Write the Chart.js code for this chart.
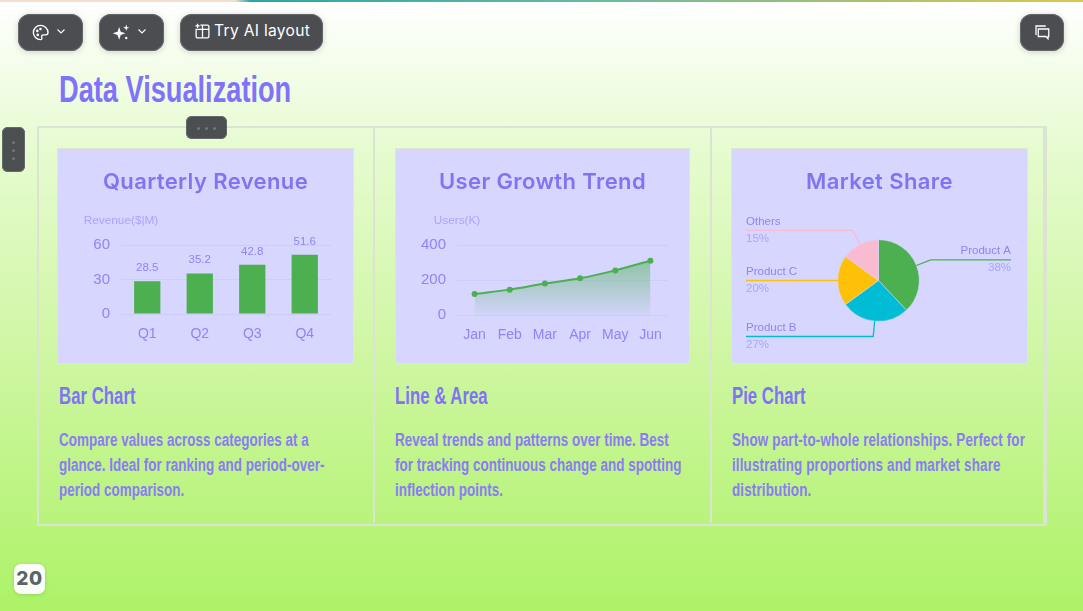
<!DOCTYPE html>
<html>
<head>
<meta charset="utf-8">
<script src="https://cdn.jsdelivr.net/npm/chart.js@4/dist/chart.umd.min.js"></script>
<style>
html, body { margin: 0; padding: 0; }
body { width: 1083px; height: 611px; overflow: hidden; position: relative;
  background: linear-gradient(180deg, #ffffff 0%, #e6fbcf 25%, #cdf6a0 60%, #adf267 100%); font-family: "Liberation Sans", sans-serif; }
.strip { position: absolute; left: 0; top: 0; width: 1083px; height: 2px;
  background: linear-gradient(90deg, #f3dfcf 0, #f3dfcf 235px, #2ba6a6 250px, #6ab9a0 600px, #dcc84a 1083px); }
.btn { position: absolute; top: 14px; height: 37px; background: #4b4d50; border-radius: 12px; color: #fff;
  box-shadow: 0 1px 6px rgba(0,0,0,.18), inset 0 0 0 1px #66686b; font: 15.6px Inter, sans-serif; letter-spacing: .3px; }
.btn svg { position: absolute; top: 9px; }
.handle { position: absolute; background: #4c4f50; border-radius: 6px; box-shadow: inset 0 0 0 1px #66686b; }
.handle i { position: absolute; width: 3px; height: 3px; border-radius: 50%; background: #73777e; }
h1, h4, p { transform-origin: left top; white-space: nowrap; }
h1 { position: absolute; left: 59px; top: 65px; margin: 0; font: bold 37px/50px "Liberation Sans", sans-serif; color: #8073fa; transform: scaleX(.735); }
.grid { position: absolute; left: 37px; top: 126px; width: 1006px; height: 396px; border: 2px solid #dbe4d3; }
.vline { position: absolute; top: 127px; width: 2px; height: 396px; background: #dbe4d3; }
.panel { position: absolute; top: 148px; height: 216px; background: #d6d6ff; box-shadow: inset 0 0 0 1px #dfe6d8; }
.panel canvas { position: absolute; left: 0; top: 0; }
.panel h3 { position: absolute; left: 0; right: 0; top: 17px; margin: 0; text-align: center; font: 600 22px/32px Inter, sans-serif; color: #7f75f2; letter-spacing: .4px; }
h4 { position: absolute; top: 382px; margin: 0; font: bold 23px/28px "Liberation Sans", sans-serif; color: #8073f6; transform: scaleX(.73); }
p { position: absolute; top: 428px; margin: 0; font: bold 18px/25px "Liberation Sans", sans-serif; color: #8a7cf4; transform: scaleX(.75); }
.page { position: absolute; left: 14px; top: 564px; width: 31px; height: 30px; border-radius: 7px; background: #fbfdf8; color: #596468;
  font: 800 19px/30px Inter, sans-serif; letter-spacing: .6px; text-align: center; box-shadow: 0 1px 4px rgba(0,0,0,.12); }
</style>
</head>
<body>
<div class="strip"></div>

<div class="btn" style="left:18px;width:65px">
  <svg style="left:13px" width="19" height="19" viewBox="0 0 24 24" fill="none" stroke="#fff" stroke-width="1.700"><path d="M12 3a9 9 0 1 0 0 18c2 0 2-1.500 1.500-3s.5-3 2-3h3c2 0 3-1.500 3-3 0-5-4.500-9-9.500-9z"/><circle cx="8" cy="10" r=".8"/><circle cx="12" cy="7.500" r=".8"/><circle cx="8.500" cy="15" r=".8"/></svg>
  <svg style="left:37px;top:11px" width="12" height="12" viewBox="0 0 24 24" fill="none" stroke="#fff" stroke-width="2.200"><path d="M5 9l7 7 7-7"/></svg>
</div>
<div class="btn" style="left:99px;width:65px">
  <svg style="left:13px" width="19" height="19" viewBox="0 0 24 24" fill="#fff"><path d="M9 5l2 6 6 2-6 2-2 6-2-6-6-2 6-2z"/><path d="M18 2l1 3 3 1-3 1-1 3-1-3-3-1 3-1z"/><circle cx="18" cy="19" r="1.500"/></svg>
  <svg style="left:37px;top:11px" width="12" height="12" viewBox="0 0 24 24" fill="none" stroke="#fff" stroke-width="2.200"><path d="M5 9l7 7 7-7"/></svg>
</div>
<div class="btn" style="left:180px;width:143px;line-height:34px">
  <svg style="left:14px" width="17" height="17" viewBox="0 0 24 24" fill="none" stroke="#fff" stroke-width="1.800"><path d="M9 3h10a2 2 0 0 1 2 2v14a2 2 0 0 1-2 2H5a2 2 0 0 1-2-2V9h18M12 3v18"/><path d="M5 1v6M2 4h6"/></svg>
  <span style="position:absolute;left:34px">Try AI layout</span>
</div>
<div class="btn" style="left:1020px;width:44px">
  <svg style="left:13px" width="18" height="18" viewBox="0 0 24 24" fill="none" stroke="#fff" stroke-width="1.700"><path d="M17 4H4v12"/><path d="M7 8h14v10h-1v3l-3-3H7z"/></svg>
</div>

<h1>Data Visualization</h1>
<div class="grid"></div>
<div class="vline" style="left:373px"></div>
<div class="vline" style="left:710px"></div>
<div class="vline" style="left:1043px"></div>

<div class="handle" style="left:186px;top:116px;width:41px;height:23px"><i style="left:11px;top:11px"></i><i style="left:19px;top:11px"></i><i style="left:27px;top:11px"></i></div>
<div class="handle" style="left:2px;top:127px;width:23px;height:45px"><i style="left:10px;top:14px"></i><i style="left:10px;top:22px"></i><i style="left:10px;top:30px"></i></div>

<div class="panel" style="left:57px;width:297px"><canvas id="chart-bar" width="297" height="216"></canvas><h3>Quarterly Revenue</h3></div>
<div class="panel" style="left:395px;width:295px"><canvas id="chart-line" width="295" height="216"></canvas><h3>User Growth Trend</h3></div>
<div class="panel" style="left:731px;width:297px"><canvas id="chart-pie" width="297" height="216"></canvas><h3>Market Share</h3></div>

<h4 style="left:59px">Bar Chart</h4>
<h4 style="left:395px">Line &amp; Area</h4>
<h4 style="left:732px">Pie Chart</h4>
<p style="left:59px">Compare values across categories at a<br>glance. Ideal for ranking and period-over-<br>period comparison.</p>
<p style="left:395px">Reveal trends and patterns over time. Best<br>for tracking continuous change and spotting<br>inflection points.</p>
<p style="left:732px;letter-spacing:.15px">Show part-to-whole relationships. Perfect for<br>illustrating proportions and market share<br>distribution.</p>

<div class="page">20</div>

<script>
// chart data
var quarters = ['Q1', 'Q2', 'Q3', 'Q4']
var revenue = [28.5, 35.2, 42.8, 51.6]
var revenue_ticks = [0, 30, 60]

var months = ['Jan', 'Feb', 'Mar', 'Apr', 'May', 'Jun']
var users = [120, 145, 180, 210, 255, 310]
var users_ticks = [0, 200, 400]

var products = ['Product A', 'Product B', 'Product C', 'Others']
var shares = [38, 27, 20, 15]

var tick_color = '#8c86f6'
var name_color = '#a9a5fb'
var grid_color = 'rgba(128,120,250,0.10)'
var slice_colors = ['#4caf50', '#00bcd4', '#ffc107', '#f8bbd0']

Chart.defaults.font.family = '"Liberation Sans", sans-serif'
Chart.defaults.animation = false

// y axis name, centred over the left end of the plot
function axisName(text) {
  return {
    id: 'axisName',
    afterDraw: function (chart) {
      var ctx = chart.ctx
      ctx.save()
      ctx.font = '11.8px "Liberation Sans"'
      ctx.fillStyle = name_color
      ctx.textAlign = 'center'
      ctx.textBaseline = 'middle'
      ctx.fillText(text, chart.chartArea.left, 73)
      ctx.restore()
    }
  }
}

var barLabels = {
  id: 'barLabels',
  afterDatasetsDraw: function (chart) {
    var ctx = chart.ctx
    ctx.save()
    ctx.font = '11.5px "Liberation Sans"'
    ctx.fillStyle = tick_color
    ctx.textAlign = 'center'
    ctx.textBaseline = 'bottom'
    chart.getDatasetMeta(0).data.forEach(function (bar, i) {
      ctx.fillText(revenue[i], bar.x, bar.y - 7.5)
    })
    ctx.restore()
  }
}

// leader lines and labels around the pie
var pieLabels = {
  id: 'pieLabels',
  afterDraw: function (chart) {
    var ctx = chart.ctx
    ctx.save()
    chart.getDatasetMeta(0).data.forEach(function (arc, i) {
      var mid = (arc.startAngle + arc.endAngle) / 2
      var sx = arc.x + Math.cos(mid) * arc.outerRadius
      var sy = arc.y + Math.sin(mid) * arc.outerRadius
      var ex = arc.x + Math.cos(mid) * (arc.outerRadius + 15.5)
      var ey = arc.y + Math.sin(mid) * (arc.outerRadius + 15.5)
      var right = Math.cos(mid) > 0
      var tx = right ? chart.width - 17 : 15

      ctx.strokeStyle = slice_colors[i]
      ctx.lineWidth = 1.3
      ctx.beginPath()
      ctx.moveTo(sx, sy)
      ctx.lineTo(ex, ey)
      ctx.lineTo(tx, ey)
      ctx.stroke()

      ctx.font = '11.5px "Liberation Sans"'
      ctx.fillStyle = tick_color
      ctx.textAlign = right ? 'right' : 'left'
      ctx.textBaseline = 'middle'
      ctx.fillText(products[i], tx, ey - 8.5)
      ctx.fillStyle = name_color
      ctx.fillText(shares[i] + '%', tx, ey + 8)
    })
    ctx.restore()
  }
}

function axes(y_ticks, y_max, y_width, x_height) {
  return {
    x: {
      offset: true,
      border: { display: false },
      grid: { display: false, drawTicks: false },
      ticks: { color: tick_color, font: { size: 14 }, padding: 12, maxRotation: 0, autoSkip: false },
      afterFit: function (scale) { scale.height = x_height }
    },
    y: {
      min: 0,
      max: y_max,
      border: { display: false },
      grid: { color: grid_color, drawTicks: false },
      afterBuildTicks: function (scale) { scale.ticks = y_ticks.map(function (v) { return { value: v } }) },
      ticks: { color: tick_color, font: { size: 15 }, padding: 11 },
      afterFit: function (scale) { scale.width = y_width }
    }
  }
}

new Chart(document.getElementById('chart-bar'), {
  type: 'bar',
  data: {
    labels: quarters,
    datasets: [{ data: revenue, backgroundColor: '#4caf50', barPercentage: 0.5, categoryPercentage: 1 }]
  },
  options: {
    responsive: false,
    layout: { padding: { top: 97, right: 23 } },
    plugins: { legend: { display: false }, tooltip: { enabled: false } },
    scales: axes(revenue_ticks, 60, 64, 50)
  },
  plugins: [barLabels, axisName('Revenue($|M)')]
})

new Chart(document.getElementById('chart-line'), {
  type: 'line',
  data: {
    labels: months,
    datasets: [{
      data: users,
      borderColor: '#4caf50',
      borderWidth: 2,
      tension: 0.3,
      pointRadius: 2,
      pointBackgroundColor: '#4caf50',
      pointBorderColor: '#4caf50',
      fill: 'origin',
      backgroundColor: function (context) {
        var area = context.chart.chartArea
        if (!area) return 'transparent'
        var gradient = context.chart.ctx.createLinearGradient(0, area.top + 14, 0, area.bottom)
        gradient.addColorStop(0, 'rgba(76,175,80,0.52)')
        gradient.addColorStop(1, 'rgba(76,175,80,0.03)')
        return gradient
      }
    }]
  },
  options: {
    responsive: false,
    layout: { padding: { top: 97, right: 22 } },
    plugins: { legend: { display: false }, tooltip: { enabled: false } },
    scales: axes(users_ticks, 400, 62, 49)
  },
  plugins: [axisName('Users(K)')]
})

new Chart(document.getElementById('chart-pie'), {
  type: 'pie',
  data: {
    labels: products,
    datasets: [{ data: shares, backgroundColor: slice_colors, borderWidth: 0.5, borderColor: '#d6d6ff' }]
  },
  options: {
    responsive: false,
    layout: { padding: { top: 91.5, bottom: 42.5, left: 106.5, right: 108.5 } },
    plugins: { legend: { display: false }, tooltip: { enabled: false } }
  },
  plugins: [pieLabels]
})
</script>
</body>
</html>
